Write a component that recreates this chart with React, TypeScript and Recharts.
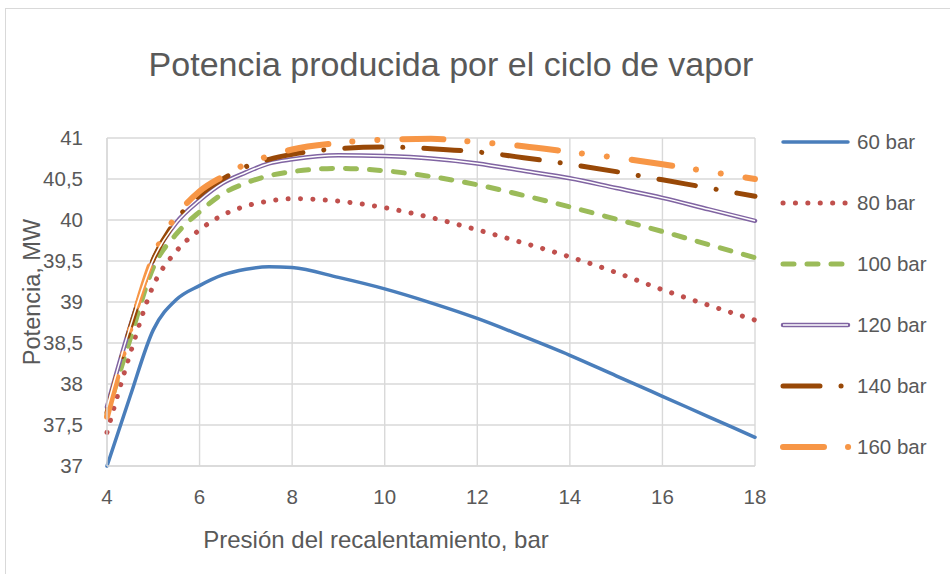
import React from "react";
import { LineChart, Line, XAxis, YAxis, CartesianGrid } from "recharts";

// presión del recalentamiento, bar
const presion = [4, 4.5, 5, 5.5, 6, 6.5, 7, 7.5, 8, 9, 10, 11, 12, 13, 14, 15, 16, 17, 18];

// potencia, MW, para cada presión de caldera
const p60 = [37.0, 37.85, 38.66, 39.03, 39.2, 39.33, 39.4, 39.43, 39.42, 39.3, 39.16, 38.99, 38.8, 38.58, 38.35, 38.1, 37.85, 37.6, 37.35];
const p80 = [37.41, 38.37, 39.2, 39.62, 39.88, 40.06, 40.17, 40.23, 40.26, 40.23, 40.15, 40.03, 39.88, 39.72, 39.55, 39.36, 39.15, 38.96, 38.78];
const p100 = [37.62, 38.55, 39.42, 39.83, 40.1, 40.32, 40.45, 40.54, 40.59, 40.63, 40.6, 40.53, 40.43, 40.3, 40.16, 40.01, 39.86, 39.7, 39.54];
const p120 = [37.72, 38.7, 39.52, 39.97, 40.24, 40.45, 40.58, 40.69, 40.74, 40.79, 40.78, 40.75, 40.69, 40.6, 40.51, 40.39, 40.27, 40.13, 39.99];
const p140 = [37.65, 38.68, 39.52, 40.0, 40.3, 40.5, 40.65, 40.74, 40.8, 40.87, 40.89, 40.87, 40.83, 40.76, 40.68, 40.59, 40.49, 40.39, 40.29];
const p160 = [37.6, 38.66, 39.55, 40.05, 40.35, 40.53, 40.68, 40.78, 40.86, 40.94, 40.98, 40.99, 40.95, 40.9, 40.83, 40.76, 40.68, 40.59, 40.5];

const seriesNames = ["60 bar", "80 bar", "100 bar", "120 bar", "140 bar", "160 bar"];
const xTicks = [4, 6, 8, 10, 12, 14, 16, 18];
const yTicks = [37, 37.5, 38, 38.5, 39, 39.5, 40, 40.5, 41];

const data = presion.map((x, i) => ({
  x,
  s60: p60[i],
  s80: p80[i],
  s100: p100[i],
  s120: p120[i],
  s140: p140[i],
  s160: p160[i],
}));

type Style = { key: string; color: string; width: number; dash?: string; double?: boolean; len: number };

const styles: Style[] = [
  { key: "s60", color: "#4A7EBB", width: 3.5, len: 65 },
  { key: "s80", color: "#C0504D", width: 5, dash: "0.1 12.3", len: 65 },
  { key: "s100", color: "#9BBB59", width: 5, dash: "11 13", len: 65 },
  { key: "s120", color: "#8064A2", width: 4.5, double: true, len: 65 },
  { key: "s140", color: "#984807", width: 5, dash: "37 21 0.1 21", len: 65 },
  { key: "s160", color: "#F79646", width: 6, dash: "41 24 0.1 25 0.1 25", len: 66 },
];

const FONT = "'Liberation Sans', Arial, sans-serif";
const TXT = "#595959";

const fmt = (v: number) => String(v).replace(".", ",");

function LegendBox() {
  return (
    <div style={{ position: "absolute", left: 775, top: 111.5 }}>
      {styles.map((s, i) => (
        <div key={s.key} style={{ display: "flex", alignItems: "center", height: 61 }}>
          <svg width={80} height={28} style={{ display: "block" }}>
            <line x1={8} x2={8 + s.len} y1={14} y2={14} stroke={s.color} strokeWidth={s.width}
              strokeDasharray={s.dash} strokeLinecap="round" />
            {s.double && <line x1={8} x2={8 + s.len} y1={14} y2={14} stroke="#fff" strokeWidth={1.5} />}
          </svg>
          <span style={{ fontSize: 20.5, color: TXT, marginLeft: 2 }}>{seriesNames[i]}</span>
        </div>
      ))}
    </div>
  );
}

export default function App() {
  return (
    <div style={{ position: "absolute", left: 0, top: 0, width: 950, height: 574, background: "#fff", overflow: "hidden", fontFamily: FONT }}>
      <div style={{ position: "absolute", left: 5, top: 8, width: 1000, height: 700, border: "1px solid #d9d9d9" }} />
      <LineChart width={950} height={574} data={data} margin={{ top: 138, right: 195, left: 0, bottom: 78 }}>
        <CartesianGrid stroke="#d9d9d9" strokeWidth={1.4} />
        <XAxis dataKey="x" type="number" domain={[4, 18]} ticks={xTicks} height={30}
          axisLine={{ stroke: "#d9d9d9", strokeWidth: 1.4 }} tickLine={false} tickSize={0} tickMargin={23}
          tick={{ fontSize: 20.5, fill: TXT, fontFamily: FONT }} />
        <YAxis type="number" domain={[37, 41]} ticks={yTicks} width={107} tickFormatter={fmt}
          axisLine={{ stroke: "#d9d9d9", strokeWidth: 1.4 }} tickLine={false} tickSize={0} tickMargin={24}
          tick={{ fontSize: 20.5, fill: TXT, fontFamily: FONT }} />
        {styles.map((s) => (
          <Line key={s.key} type="monotone" dataKey={s.key} stroke={s.color} strokeWidth={s.width}
            strokeDasharray={s.dash} strokeLinecap="round" dot={false} isAnimationActive={false} />
        ))}
        <Line type="monotone" dataKey="s120" stroke="#fff" strokeWidth={1.5} dot={false} isAnimationActive={false} />
      </LineChart>
      <div style={{ position: "absolute", left: 0, width: 902, top: 45, textAlign: "center", fontSize: 34, color: TXT }}>
        Potencia producida por el ciclo de vapor
      </div>
      <div style={{ position: "absolute", left: 0, width: 752, top: 526, textAlign: "center", fontSize: 24, color: TXT }}>
        Presión del recalentamiento, bar
      </div>
      <div style={{ position: "absolute", left: 32, top: 292, width: 0, height: 0 }}>
        <div style={{ position: "absolute", transform: "translate(-50%, -50%) rotate(-90deg)", whiteSpace: "nowrap", fontSize: 23.5, color: TXT }}>
          Potencia, MW
        </div>
      </div>
      <LegendBox />
    </div>
  );
}
